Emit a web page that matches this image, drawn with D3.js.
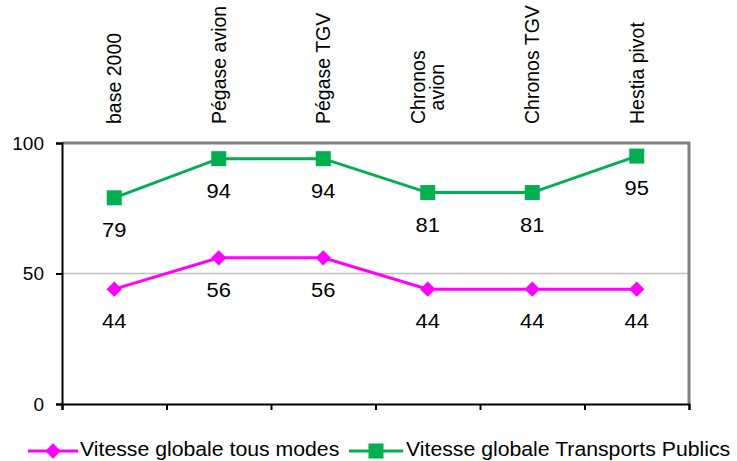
<!DOCTYPE html>
<html><head><meta charset="utf-8">
<script src="https://cdn.jsdelivr.net/npm/d3@7"></script>
<style>body{margin:0;background:#fff}svg{display:block}text{font-family:"Liberation Sans",Arial,sans-serif;fill:#000}</style>
</head><body>
<svg id="c" width="737" height="461"></svg>
<script>
const categories = [["base 2000"],["Pégase avion"],["Pégase TGV"],["Chronos","avion"],["Chronos TGV"],["Hestia pivot"]];
const seriesNames = ["Vitesse globale tous modes","Vitesse globale Transports Publics"];
const tousModes = [44,56,56,44,44,44];
const transportsPublics = [79,94,94,81,81,95];
const yTicks = [0,50,100];
const colors = ["#FF00FF","#00B050"];

const svg = d3.select("#c");
const L=62, R=689, T=143, B=404;
const x = d3.scaleBand().domain(d3.range(categories.length)).range([L,R]);
const y = d3.scaleLinear().domain([0,100]).range([B,T]);

svg.append("line").attr("x1",L).attr("x2",R).attr("y1",y(50)).attr("y2",y(50)).attr("stroke","#C0C0C0").attr("stroke-width",1.5);
svg.append("path").attr("d",`M${L},${T}H${R}V${B}`).attr("fill","none").attr("stroke","#808080").attr("stroke-width",3);

const ya = svg.append("g").attr("transform",`translate(${L},0)`).call(d3.axisLeft(y).tickValues(yTicks).tickSize(6).tickPadding(12));
ya.select(".domain").attr("stroke","#000").attr("stroke-width",2);
ya.selectAll(".tick line").attr("stroke","#000").attr("stroke-width",2);
ya.selectAll("text").attr("font-size",19).attr("font-family",null);

const xb = d3.scaleLinear().domain([0,categories.length]).range([L,R]);
const xa = svg.append("g").attr("transform",`translate(0,${B})`).call(d3.axisBottom(xb).tickValues(d3.range(categories.length+1)).tickSize(6).tickFormat(""));
xa.select(".domain").attr("stroke","#000").attr("stroke-width",2);
xa.selectAll(".tick line").attr("stroke","#000").attr("stroke-width",2);

categories.forEach((lines,i)=>{
  const cx = x(i)+x.bandwidth()/2;
  const g = svg.append("g");
  const t = g.append("text").attr("font-size",19.5).attr("text-anchor","middle");
  const lh = 19;
  lines.forEach((ln,j)=>{
    t.append("tspan").attr("x",0).attr("y",(j-(lines.length-1)/2)*lh).attr("dy","0.35em").text(ln);
  });
  let maxLen = 0;
  t.selectAll("tspan").each(function(){ maxLen=Math.max(maxLen,this.getComputedTextLength()); });
  g.attr("transform",`translate(${cx},${124-maxLen/2}) rotate(-90)`);
});

const series = [tousModes, transportsPublics];
const line = d3.line().x((d,i)=>x(i)+x.bandwidth()/2).y(d=>y(d));
series.forEach((vals,s)=>{
  svg.append("path").datum(vals).attr("d",line).attr("fill","none").attr("stroke",colors[s]).attr("stroke-width",3);
  vals.forEach((v,i)=>{
    const cx = x(i)+x.bandwidth()/2, cy=y(v);
    if(s===0){
      svg.append("path").attr("d",d3.symbol(d3.symbolDiamond2,150)()).attr("transform",`translate(${cx},${cy})`).attr("fill",colors[s]);
    } else {
      svg.append("rect").attr("x",cx-7.5).attr("y",cy-7.5).attr("width",15).attr("height",15).attr("fill",colors[s]);
    }
    svg.append("text").attr("transform",`translate(${cx},${cy+39}) scale(1.08,1)`).attr("text-anchor","middle").attr("font-size",20.3).text(v);
  });
});

const legY = 451;
const legItems = [{x1:28,x2:78,tx:80},{x1:349,x2:403,tx:406}];
legItems.forEach((it,s)=>{
  svg.append("line").attr("x1",it.x1).attr("x2",it.x2).attr("y1",legY).attr("y2",legY).attr("stroke",colors[s]).attr("stroke-width",3);
  const mx=(it.x1+it.x2)/2;
  if(s===0) svg.append("path").attr("d",d3.symbol(d3.symbolDiamond2,150)()).attr("transform",`translate(${mx},${legY})`).attr("fill",colors[s]);
  else svg.append("rect").attr("x",mx-7.5).attr("y",legY-7.5).attr("width",15).attr("height",15).attr("fill",colors[s]);
  svg.append("text").attr("transform",`translate(${it.tx},456) scale(1.09,1)`).attr("font-size",19.5).text(seriesNames[s]);
});
</script>
</body></html>
